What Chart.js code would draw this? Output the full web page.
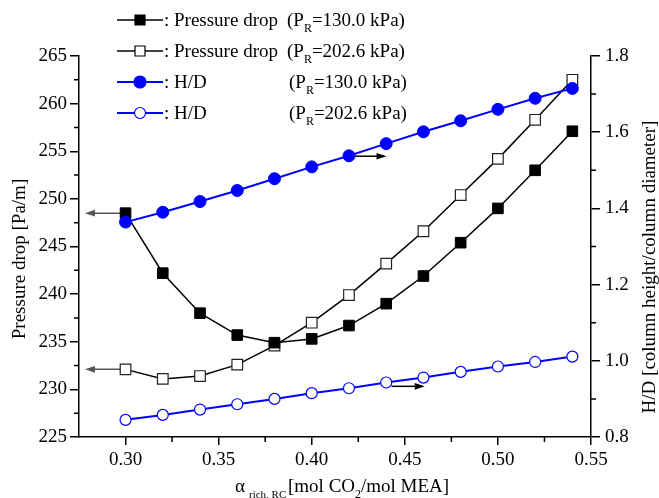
<!DOCTYPE html>
<html>
<head>
<meta charset="utf-8">
<script src="https://cdn.jsdelivr.net/npm/chart.js@4.4.0/dist/chart.umd.min.js"></script>
<style>
  html, body { margin: 0; padding: 0; background: #fff; }
  #wrap { width: 659px; height: 498px; position: relative; }
</style>
</head>
<body>
<div id="wrap"><canvas id="chart"></canvas></div>
<script>
// rich loading in the regenerator column
const alpha = [0.30, 0.32, 0.34, 0.36, 0.38, 0.40, 0.42, 0.44, 0.46, 0.48, 0.50, 0.52, 0.54];

// pressure drop [Pa/m]
const dp130 = [248.5, 242.2, 238.0, 235.7, 234.9, 235.3, 236.7, 239.0, 241.9, 245.4, 249.0, 253.0, 257.1];
const dp202 = [232.1, 231.1, 231.4, 232.6, 234.6, 237.0, 239.9, 243.2, 246.6, 250.4, 254.2, 258.3, 262.5];

// column height / column diameter
const hd130 = [1.364, 1.390, 1.418, 1.447, 1.478, 1.509, 1.538, 1.570, 1.601, 1.630, 1.660, 1.689, 1.715];
const hd202 = [0.845, 0.858, 0.872, 0.886, 0.900, 0.915, 0.928, 0.943, 0.956, 0.971, 0.985, 0.997, 1.011];

const xTicks = [0.30, 0.35, 0.40, 0.45, 0.50, 0.55];
const dpTicks = [225, 230, 235, 240, 245, 250, 255, 260, 265];
const hdTicks = [0.8, 1.0, 1.2, 1.4, 1.6, 1.8];

const legendNames = ['Pressure drop', 'Pressure drop', 'H/D', 'H/D'];
const legendPressures = ['130.0', '202.6', '130.0', '202.6'];

// arrows pointing each curve to its own axis
const arrowNotes = [
  { axis: 'yDp', from: [0.30, 248.5], to: [0.2782, 248.5], color: '#555' },
  { axis: 'yDp', from: [0.30, 232.1], to: [0.2782, 232.1], color: '#555' },
  { axis: 'yHd', from: [0.4221, 1.537], to: [0.4402, 1.537], color: '#000' },
  { axis: 'yHd', from: [0.4429, 0.933], to: [0.4607, 0.933], color: '#000' }
];

const SERIF = '"Liberation Serif", "Times New Roman", serif';
const BLUE = '#0000ff';

const pts = ys => alpha.map((x, i) => ({ x: x, y: ys[i] }));

const styles = [
  { color: '#000', fill: '#000', shape: 'rect' },
  { color: '#000', fill: '#fff', shape: 'rect' },
  { color: BLUE, fill: BLUE, shape: 'circle' },
  { color: BLUE, fill: '#fff', shape: 'circle' }
];

function arrow(ctx, x1, y1, x2, y2, color) {
  const ang = Math.atan2(y2 - y1, x2 - x1);
  const len = 10, hw = 3.3;
  ctx.save();
  ctx.strokeStyle = color;
  ctx.fillStyle = color;
  ctx.lineWidth = 1.5;
  ctx.beginPath();
  ctx.moveTo(x1, y1);
  ctx.lineTo(x2 - Math.cos(ang) * len * 0.8, y2 - Math.sin(ang) * len * 0.8);
  ctx.stroke();
  ctx.beginPath();
  ctx.moveTo(x2, y2);
  ctx.lineTo(x2 - Math.cos(ang) * len - Math.sin(ang) * hw, y2 - Math.sin(ang) * len + Math.cos(ang) * hw);
  ctx.lineTo(x2 - Math.cos(ang) * len + Math.sin(ang) * hw, y2 - Math.sin(ang) * len - Math.cos(ang) * hw);
  ctx.closePath();
  ctx.fill();
  ctx.restore();
}

function marker(ctx, st, x, y) {
  ctx.save();
  ctx.fillStyle = st.fill;
  ctx.strokeStyle = st.color;
  ctx.lineWidth = 1.2;
  ctx.beginPath();
  if (st.shape === 'rect') {
    ctx.rect(x - 5, y - 5, 10, 10);
  } else {
    ctx.arc(x, y, st.fill === '#fff' ? 5.5 : 6, 0, Math.PI * 2);
  }
  ctx.fill();
  ctx.stroke();
  ctx.restore();
}

// text with one subscript in the middle: main, sub, rest
function subText(ctx, x, y, main, sub, rest, size, subSize, drop) {
  ctx.font = size + 'px ' + SERIF;
  ctx.fillText(main, x, y);
  x += ctx.measureText(main).width;
  ctx.font = subSize + 'px ' + SERIF;
  ctx.fillText(sub, x, y + drop);
  x += ctx.measureText(sub).width;
  ctx.font = size + 'px ' + SERIF;
  ctx.fillText(rest, x, y);
  return x + ctx.measureText(rest).width;
}

const decorations = {
  id: 'decorations',
  beforeDatasetsDraw(chart) {
    const ctx = chart.ctx;
    const xs = chart.scales.x;
    arrowNotes.forEach(a => {
      const ys = chart.scales[a.axis];
      arrow(ctx, xs.getPixelForValue(a.from[0]), ys.getPixelForValue(a.from[1]),
        xs.getPixelForValue(a.to[0]), ys.getPixelForValue(a.to[1]), a.color);
    });
  },
  afterDraw(chart) {
    const ctx = chart.ctx;
    const { x, yDp, yHd } = chart.scales;
    const area = chart.chartArea;

    // minor ticks
    ctx.save();
    ctx.strokeStyle = '#000';
    ctx.lineWidth = 1.5;
    ctx.beginPath();
    for (let i = 0; i < xTicks.length - 1; i++) {
      const px = x.getPixelForValue((xTicks[i] + xTicks[i + 1]) / 2);
      ctx.moveTo(px, area.bottom);
      ctx.lineTo(px, area.bottom + 5);
    }
    for (let i = 0; i < dpTicks.length - 1; i++) {
      const py = yDp.getPixelForValue((dpTicks[i] + dpTicks[i + 1]) / 2);
      ctx.moveTo(area.left, py);
      ctx.lineTo(area.left - 5, py);
    }
    for (let i = 0; i < hdTicks.length - 1; i++) {
      const py = yHd.getPixelForValue((hdTicks[i] + hdTicks[i + 1]) / 2);
      ctx.moveTo(area.right, py);
      ctx.lineTo(area.right + 5, py);
    }
    ctx.stroke();
    ctx.restore();

    ctx.save();
    ctx.fillStyle = '#000';
    ctx.textBaseline = 'alphabetic';
    ctx.textAlign = 'left';

    // legend
    const rows = [20, 51, 82, 113];
    rows.forEach((ry, i) => {
      const st = styles[i];
      ctx.save();
      ctx.strokeStyle = st.color;
      ctx.lineWidth = st.color === BLUE ? 2 : 1.5;
      ctx.beginPath();
      ctx.moveTo(117, ry);
      ctx.lineTo(163, ry);
      ctx.stroke();
      ctx.restore();
      marker(ctx, st, 140, ry);
      ctx.fillStyle = '#000';
      ctx.font = '19px ' + SERIF;
      ctx.fillText(':', 164, ry + 6);
      ctx.fillText(legendNames[i], 174, ry + 6);
      subText(ctx, i < 2 ? 287 : 289, ry + 6, '(P', 'R', '=' + legendPressures[i] + ' kPa)', 19, 12, 6);
    });

    // x axis title
    ctx.font = '19px ' + SERIF;
    ctx.fillText('\u03b1', 235, 492);
    ctx.font = '11px ' + SERIF;
    ctx.fillText('rich, RC', 249, 498);
    subText(ctx, 288, 492, '[mol CO', '2', '/mol MEA]', 19, 12, 6);

    // y axis titles
    ctx.font = '19px ' + SERIF;
    ctx.textAlign = 'center';
    ctx.textBaseline = 'middle';
    ctx.save();
    ctx.translate(20, 259);
    ctx.rotate(-Math.PI / 2);
    ctx.fillText('Pressure drop [Pa/m]', 0, 0);
    ctx.restore();
    ctx.save();
    ctx.translate(650, 267);
    ctx.rotate(-Math.PI / 2);
    ctx.fillText('H/D [column height/column diameter]', 0, 0);
    ctx.restore();
    ctx.restore();
  }
};

const tickFont = { family: SERIF, size: 19 };
const gridOpts = len => ({ display: true, drawOnChartArea: false, drawTicks: true, tickLength: len, color: '#000', lineWidth: 1.5 });
const borderOpts = { display: true, color: '#000', width: 1.5 };

new Chart(document.getElementById('chart'), {
  type: 'line',
  data: {
    datasets: [
      { data: pts(dp130), yAxisID: 'yDp', borderColor: '#000', borderWidth: 1.5, pointStyle: 'rect', pointRadius: 7.5,
        pointBackgroundColor: '#000', pointBorderColor: '#000', pointBorderWidth: 1, order: 2 },
      { data: pts(dp202), yAxisID: 'yDp', borderColor: '#000', borderWidth: 1.5, pointStyle: 'rect', pointRadius: 7.5,
        pointBackgroundColor: '#fff', pointBorderColor: '#222', pointBorderWidth: 1.2, order: 3 },
      { data: pts(hd130), yAxisID: 'yHd', borderColor: BLUE, borderWidth: 2, pointStyle: 'circle', pointRadius: 6,
        pointBackgroundColor: BLUE, pointBorderColor: BLUE, pointBorderWidth: 1, order: 0 },
      { data: pts(hd202), yAxisID: 'yHd', borderColor: BLUE, borderWidth: 2, pointStyle: 'circle', pointRadius: 5.5,
        pointBackgroundColor: '#fff', pointBorderColor: BLUE, pointBorderWidth: 1.2, order: 1 }
    ]
  },
  options: {
    responsive: true,
    maintainAspectRatio: false,
    animation: false,
    layout: { padding: { top: 56, left: 0, right: 0, bottom: 0 } },
    plugins: { legend: { display: false }, tooltip: { enabled: false } },
    scales: {
      x: {
        type: 'linear', position: 'bottom', min: 0.275, max: 0.55,
        afterBuildTicks: s => { s.ticks = xTicks.map(v => ({ value: v })); },
        afterFit: s => { s.height = 61; },
        grid: gridOpts(8), border: borderOpts,
        ticks: { font: tickFont, color: '#000', padding: 4, maxRotation: 0, autoSkip: false,
          callback: v => v.toFixed(2) }
      },
      yDp: {
        type: 'linear', position: 'left', min: 225, max: 265,
        afterBuildTicks: s => { s.ticks = dpTicks.map(v => ({ value: v })); },
        afterFit: s => { s.width = 79; },
        grid: gridOpts(9), border: borderOpts,
        ticks: { font: tickFont, color: '#000', padding: 3, callback: v => String(v) }
      },
      yHd: {
        type: 'linear', position: 'right', min: 0.8, max: 1.8,
        afterBuildTicks: s => { s.ticks = hdTicks.map(v => ({ value: v })); },
        afterFit: s => { s.width = 68; },
        grid: gridOpts(9), border: borderOpts,
        ticks: { font: tickFont, color: '#000', padding: 5, callback: v => v.toFixed(1) }
      }
    }
  },
  plugins: [decorations]
});
</script>
</body>
</html>
